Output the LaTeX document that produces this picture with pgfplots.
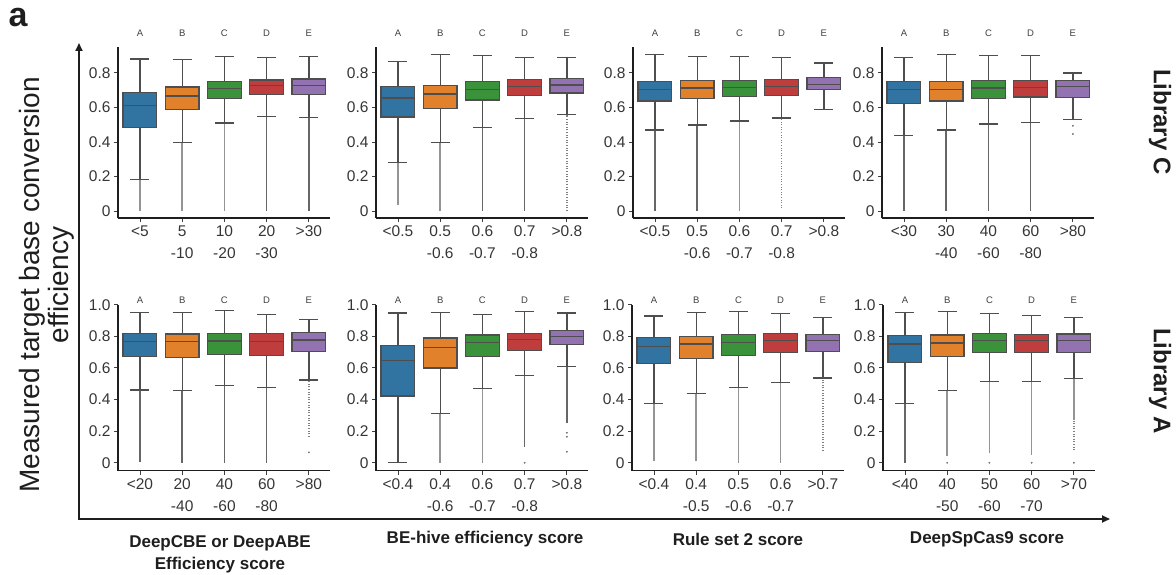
\documentclass[border=0pt]{standalone}
\usepackage{fontspec}
\setmainfont{Liberation Sans}
\usepackage{pgfplots}
\pgfplotsset{compat=1.18}
\usepgfplotslibrary{statistics}
\usetikzlibrary{arrows.meta}

\definecolor{cA}{RGB}{50,116,161}
\definecolor{cB}{RGB}{225,129,44}
\definecolor{cC}{RGB}{58,146,58}
\definecolor{cD}{RGB}{192,61,62}
\definecolor{cE}{RGB}{147,114,178}
\definecolor{edge}{RGB}{78,78,78}
\definecolor{txt}{RGB}{30,30,30}

% box: position, colour, lower whisker, Q1, median, Q3, upper whisker
\newcommand{\bx}[7]{\addplot[boxplot/draw direction=y, boxplot prepared={draw direction=y, draw position=#1, lower whisker=#3, lower quartile=#4, median=#5, upper quartile=#6, upper whisker=#7, box extend=0.8, whisker extend=0.45}, boxplot/every box/.style={fill=#2, draw=edge}, draw=edge, line width=1.25pt] coordinates {};}
% flier range drawn as a column of dense points
\newcommand{\fl}[4][]{\addplot[flier,#1] coordinates {(#2,#3) (#2,#4)};}
\newcommand{\abcde}{%
\node[letter] at (axis cs:0,1.03) {A};
\node[letter] at (axis cs:1,1.03) {B};
\node[letter] at (axis cs:2,1.03) {C};
\node[letter] at (axis cs:3,1.03) {D};
\node[letter] at (axis cs:4,1.03) {E};}

\tikzset{letter/.style={font=\fontsize{9.5}{10}\selectfont, text=txt!85}}
\pgfplotsset{
  flier/.style={line width=1.5pt, color=black!60},
  light/.style={color=black!42},
  sparse/.style={color=black!50, dash pattern=on 1pt off 1.6pt},
  outl/.style={only marks, mark=*, mark size=0.7pt, color=black!55},
  panel/.style={
    scale only axis, width=212pt, anchor=south west,
    xmin=-0.52, xmax=4.5, xtick={0,1,2,3,4},
    axis x line*=bottom, axis y line*=left,
    axis line style={line width=1.2pt, txt, -},
    tick style={line width=0.9pt, txt!85},
    tick align=outside, major tick length=4pt,
    /pgf/number format/assume math mode=true,
    ticklabel style={font=\fontsize{15.5}{22}\selectfont, text=txt!90},
    xticklabel style={align=center},
    clip=false},
  toprow/.style={height=171pt, ymin=-0.04, ymax=0.95,
    ytick={0,0.2,0.4,0.6,0.8}, yticklabels={0,0.2,0.4,0.6,0.8}},
  botrow/.style={height=166pt, ymin=-0.05, ymax=1.0,
    ytick={0,0.2,0.4,0.6,0.8,1.0}, yticklabels={0,0.2,0.4,0.6,0.8,1.0}},
}

\begin{document}
\begin{tikzpicture}
\path[use as bounding box] (0pt,0pt) rectangle (1176pt,574pt);

% ---------------- Library C (top row) ----------------
\begin{axis}[panel, toprow, at={(118pt,356pt)},
  xticklabels={{<5},{5\\-10},{10\\-20},{20\\-30},{>30}}]
\fl[light]{0}{0.0}{0.184}
\fl[light]{1}{0.0}{0.398}
\fl[light]{2}{0.0}{0.51}
\fl{3}{0.0}{0.548}
\fl{4}{0.0}{0.544}
\bx{0}{cA}{0.184}{0.485}{0.61}{0.687}{0.88}
\bx{1}{cB}{0.398}{0.59}{0.666}{0.718}{0.878}
\bx{2}{cC}{0.51}{0.654}{0.711}{0.751}{0.893}
\bx{3}{cD}{0.548}{0.674}{0.726}{0.759}{0.889}
\bx{4}{cE}{0.544}{0.674}{0.728}{0.765}{0.897}
\abcde
\end{axis}

\begin{axis}[panel, toprow, at={(376pt,356pt)},
  xticklabels={{<0.5},{0.5\\-0.6},{0.6\\-0.7},{0.7\\-0.8},{>0.8}}]
\fl[light]{0}{0.035}{0.281}
\fl[light]{1}{0.0}{0.397}
\fl{2}{0.0}{0.486}
\fl{3}{0.0}{0.537}
\fl[sparse]{4}{0.0}{0.558}
\bx{0}{cA}{0.281}{0.545}{0.655}{0.721}{0.864}
\bx{1}{cB}{0.397}{0.595}{0.678}{0.729}{0.905}
\bx{2}{cC}{0.486}{0.643}{0.705}{0.75}{0.899}
\bx{3}{cD}{0.537}{0.67}{0.723}{0.76}{0.891}
\bx{4}{cE}{0.558}{0.684}{0.73}{0.769}{0.89}
\abcde
\end{axis}

\begin{axis}[panel, toprow, at={(633pt,356pt)},
  xticklabels={{<0.5},{0.5\\-0.6},{0.6\\-0.7},{0.7\\-0.8},{>0.8}}]
\fl{0}{0.0}{0.469}
\fl{1}{0.0}{0.498}
\fl[light]{2}{0.0}{0.521}
\fl[sparse]{3}{0.015}{0.539}
\bx{0}{cA}{0.469}{0.638}{0.705}{0.75}{0.905}
\bx{1}{cB}{0.498}{0.651}{0.713}{0.754}{0.897}
\bx{2}{cC}{0.521}{0.663}{0.717}{0.756}{0.897}
\bx{3}{cD}{0.539}{0.67}{0.723}{0.76}{0.89}
\bx{4}{cE}{0.589}{0.702}{0.733}{0.775}{0.857}
\abcde
\end{axis}

\begin{axis}[panel, toprow, at={(882pt,356pt)},
  xticklabels={{<30},{30\\-40},{40\\-60},{60\\-80},{>80}}]
\fl{0}{0.0}{0.438}
\fl{1}{0.0}{0.469}
\fl{2}{0.0}{0.504}
\fl{3}{0.0}{0.515}
\addplot[outl] coordinates {(4,0.494) (4,0.446)};
\bx{0}{cA}{0.438}{0.625}{0.706}{0.752}{0.888}
\bx{1}{cB}{0.469}{0.638}{0.706}{0.752}{0.906}
\bx{2}{cC}{0.504}{0.652}{0.712}{0.754}{0.902}
\bx{3}{cD}{0.515}{0.66}{0.715}{0.758}{0.902}
\bx{4}{cE}{0.531}{0.658}{0.721}{0.754}{0.8}
\abcde
\end{axis}

% ---------------- Library A (bottom row) ----------------
\begin{axis}[panel, botrow, at={(118pt,103.3pt)},
  xticklabels={{<20},{20\\-40},{40\\-60},{60\\-80},{>80}}]
\fl{0}{0.006}{0.461}
\fl{1}{0.0}{0.457}
\fl{2}{0.0}{0.49}
\fl{3}{0.0}{0.478}
\fl[sparse]{4}{0.165}{0.524}
\addplot[outl] coordinates {(4,0.066)};
\bx{0}{cA}{0.461}{0.672}{0.765}{0.816}{0.951}
\bx{1}{cB}{0.457}{0.668}{0.765}{0.814}{0.953}
\bx{2}{cC}{0.49}{0.685}{0.77}{0.816}{0.962}
\bx{3}{cD}{0.478}{0.681}{0.765}{0.816}{0.939}
\bx{4}{cE}{0.524}{0.702}{0.776}{0.822}{0.905}
\abcde
\end{axis}

\begin{axis}[panel, botrow, at={(376pt,103.3pt)},
  xticklabels={{<0.4},{0.4\\-0.6},{0.6\\-0.7},{0.7\\-0.8},{>0.8}}]
\fl[light]{1}{0.0}{0.311}
\fl[light]{2}{0.0}{0.471}
\fl{3}{0.1}{0.552}
\fl{4}{0.25}{0.611}
\addplot[outl] coordinates {(3,0.0) (4,0.19) (4,0.165) (4,0.07)};
\bx{0}{cA}{0.0}{0.423}{0.647}{0.744}{0.947}
\bx{1}{cB}{0.311}{0.6}{0.727}{0.789}{0.951}
\bx{2}{cC}{0.471}{0.67}{0.761}{0.808}{0.937}
\bx{3}{cD}{0.552}{0.712}{0.778}{0.82}{0.958}
\bx{4}{cE}{0.611}{0.746}{0.799}{0.835}{0.947}
\abcde
\end{axis}

\begin{axis}[panel, botrow, at={(632pt,103.3pt)},
  xticklabels={{<0.4},{0.4\\-0.5},{0.5\\-0.6},{0.6\\-0.7},{>0.7}}]
\fl[light]{0}{0.01}{0.376}
\fl[light]{1}{0.01}{0.44}
\fl[light]{2}{0.0}{0.478}
\fl[light]{3}{0.0}{0.51}
\fl[sparse]{4}{0.076}{0.537}
\bx{0}{cA}{0.376}{0.628}{0.736}{0.793}{0.928}
\bx{1}{cB}{0.44}{0.658}{0.751}{0.801}{0.949}
\bx{2}{cC}{0.478}{0.679}{0.763}{0.81}{0.958}
\bx{3}{cD}{0.51}{0.696}{0.772}{0.816}{0.943}
\bx{4}{cE}{0.537}{0.704}{0.772}{0.812}{0.918}
\abcde
\end{axis}

\begin{axis}[panel, botrow, at={(883pt,103.3pt)},
  xticklabels={{<40},{40\\-50},{50\\-60},{60\\-70},{>70}}]
\fl{0}{0.0}{0.374}
\fl[light]{1}{0.04}{0.459}
\fl[light]{2}{0.06}{0.514}
\fl[light]{3}{0.05}{0.512}
\fl[light]{4}{0.27}{0.531}
\fl[sparse]{4}{0.08}{0.27}
\addplot[outl] coordinates {(1,0.0) (2,0.0) (3,0.0) (4,0.0)};
\bx{0}{cA}{0.374}{0.636}{0.751}{0.805}{0.949}
\bx{1}{cB}{0.459}{0.67}{0.757}{0.808}{0.958}
\bx{2}{cC}{0.514}{0.696}{0.772}{0.816}{0.945}
\bx{3}{cD}{0.512}{0.696}{0.772}{0.812}{0.932}
\bx{4}{cE}{0.531}{0.7}{0.772}{0.814}{0.92}
\abcde
\end{axis}

% ---------------- frame arrows and labels ----------------
\draw[line width=1.8pt, txt, {Triangle[length=8pt,width=7pt]}-{Triangle[length=8pt,width=7pt]}]
  (79pt,531pt) -- (79pt,55pt) -- (1110pt,55pt);
\node[font=\bfseries\fontsize{34}{34}\selectfont, text=txt] at (18pt,556pt) {a};
\node[rotate=90, align=center, font=\fontsize{28}{29}\selectfont, text=txt] at (47pt,289pt)
  {Measured target base conversion\\efficiency};
\node[rotate=-90, font=\bfseries\fontsize{24}{24}\selectfont, text=txt] at (1160pt,452pt) {Library C};
\node[rotate=-90, font=\bfseries\fontsize{24}{24}\selectfont, text=txt] at (1160pt,193pt) {Library A};
\node[align=center, font=\bfseries\fontsize{17}{22}\selectfont, text=txt] at (220pt,20pt)
  {DeepCBE or DeepABE\\Efficiency score};
\node[font=\bfseries\fontsize{17}{22}\selectfont, text=txt] at (485pt,35pt) {BE-hive efficiency score};
\node[font=\bfseries\fontsize{17}{22}\selectfont, text=txt] at (738pt,35pt) {Rule set 2 score};
\node[font=\bfseries\fontsize{17}{22}\selectfont, text=txt] at (987pt,35pt) {DeepSpCas9 score};
\end{tikzpicture}
\end{document}
